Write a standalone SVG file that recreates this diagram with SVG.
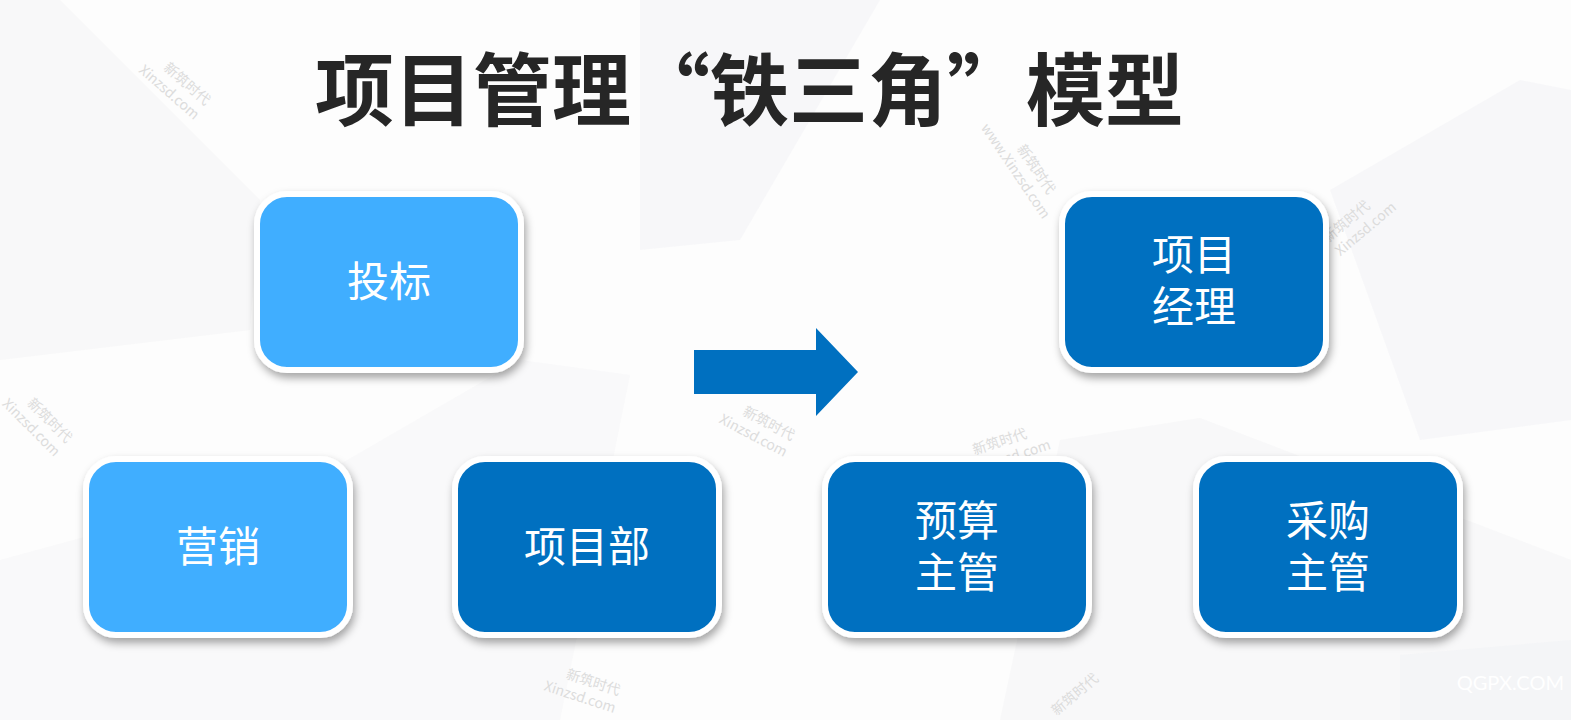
<svg xmlns="http://www.w3.org/2000/svg" width="1571" height="720" viewBox="0 0 1571 720">
<defs>
<filter id="sh" x="-20%" y="-20%" width="140%" height="150%">
<feDropShadow dx="2" dy="5" stdDeviation="4" flood-color="#000" flood-opacity="0.35"/>
</filter>
<style>
.box{stroke:#fff;stroke-width:6;filter:url(#sh)}
.light{fill:#41AEFF}
.dark{fill:#0070C0}
.lbl{font-family:"Noto Sans CJK SC","Liberation Serif",serif;font-size:42px;fill:#fff;text-anchor:middle}
.title{font-family:"Noto Sans CJK SC","Liberation Serif",serif;font-size:79px;font-weight:bold;fill:#262626}
.wm{font-family:"Noto Sans CJK SC","Liberation Sans",sans-serif;font-size:14px;fill:#dcdcdc;text-anchor:middle}
.bg{fill:#f3f4f6}
</style>
</defs>
<rect width="1571" height="720" fill="#fdfdfd"/>
<g id="background">
<polygon class="bg" points="0,0 60,0 260,200 250,330 0,360" opacity="0.5"/>
<polygon class="bg" points="640,0 880,0 740,240 640,250" opacity="0.6"/>
<polygon class="bg" points="1330,190 1520,80 1571,90 1571,420 1420,440" opacity="0.6"/>
<polygon class="bg" points="0,560 330,470 520,360 630,375 560,720 0,720" opacity="0.45"/>
<polygon class="bg" points="1060,440 1200,418 1571,560 1571,720 1000,720" opacity="0.5"/>
<polygon class="bg" points="1400,655 1571,640 1571,720 1400,720" opacity="0.8"/>
</g>
<g id="watermarks">
<g transform="translate(180,92) rotate(41)"><text class="wm" x="0" y="-6">新筑时代</text><text class="wm" x="-8" y="12">Xinzsd.com</text></g>
<g transform="translate(42,428) rotate(45)"><text class="wm" x="0" y="-6">新筑时代</text><text class="wm" x="-8" y="12">Xinzsd.com</text></g>
<g transform="translate(1025,172) rotate(56)"><text class="wm" x="4" y="-6">新筑时代</text><text class="wm" x="-6" y="12">www.Xinzsd.com</text></g>
<g transform="translate(1358,226) rotate(-40)"><text class="wm" x="-6" y="-6">新筑时代</text><text class="wm" x="4" y="12">Xinzsd.com</text></g>
<g transform="translate(762,432) rotate(28)"><text class="wm" x="2" y="-6">新筑时代</text><text class="wm" x="-6" y="12">Xinzsd.com</text></g>
<g transform="translate(1003,452) rotate(-18)"><text class="wm" x="0" y="-6">新筑时代</text><text class="wm" x="10" y="12">Xinzsd.com</text></g>
<g transform="translate(588,692) rotate(18)"><text class="wm" x="2" y="-6">新筑时代</text><text class="wm" x="-6" y="12">Xinzsd.com</text></g>
<g transform="translate(1078,698) rotate(-40)"><text class="wm" x="0" y="0">新筑时代</text></g>
<text x="1564" y="690" font-family="Lato,'Liberation Sans',sans-serif" font-size="20" fill="#ffffff" text-anchor="end">QGPX.COM</text>
</g>
<text class="title" x="315" y="120">项目管理“铁三角”模型</text>
<g id="connectors">
<polygon points="694,350 816,350 816,328 858,372 816,416 816,394 694,394" fill="#0070C0"/>
</g>
<g id="node-toubiao">
<rect class="box light" x="257" y="194" width="264" height="176" rx="30"/>
<text class="lbl" x="389" y="297">投标</text>
</g>
<g id="node-yingxiao">
<rect class="box light" x="86" y="459" width="264" height="176" rx="30"/>
<text class="lbl" x="218" y="562">营销</text>
</g>
<g id="node-xiangmubu">
<rect class="box dark" x="455" y="459" width="264" height="176" rx="30"/>
<text class="lbl" x="587" y="562">项目部</text>
</g>
<g id="node-jingli">
<rect class="box dark" x="1062" y="194" width="264" height="176" rx="30"/>
<text class="lbl" x="1194" y="270">项目<tspan x="1194" dy="52">经理</tspan></text>
</g>
<g id="node-yusuan">
<rect class="box dark" x="825" y="459" width="264" height="176" rx="30"/>
<text class="lbl" x="957" y="536">预算<tspan x="957" dy="52">主管</tspan></text>
</g>
<g id="node-caigou">
<rect class="box dark" x="1196" y="459" width="264" height="176" rx="30"/>
<text class="lbl" x="1328" y="536">采购<tspan x="1328" dy="52">主管</tspan></text>
</g>
</svg>
